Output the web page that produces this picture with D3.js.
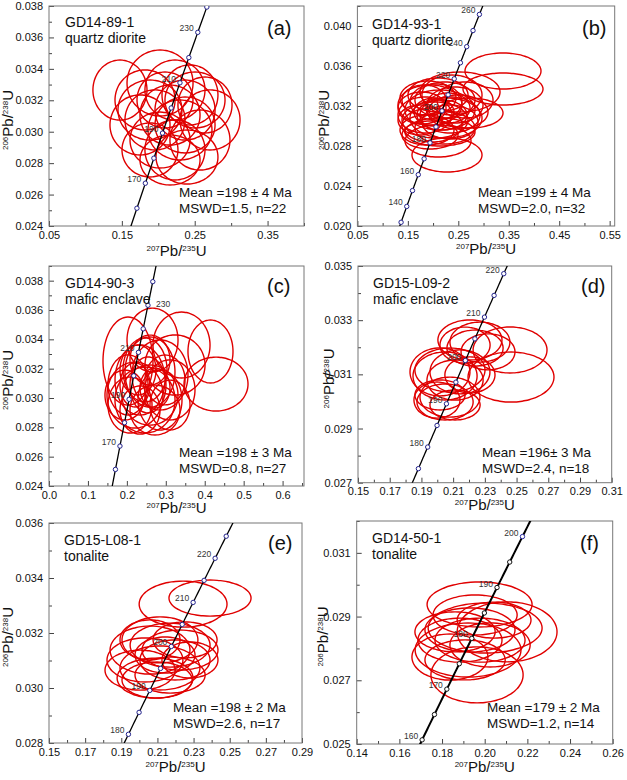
<!DOCTYPE html>
<html><head><meta charset="utf-8">
<script src="https://cdn.jsdelivr.net/npm/d3@7"></script>
<style>
body{margin:0;background:#fff}
text{font-family:"Liberation Sans",Arial,sans-serif}
</style>
</head><body>
<svg id="chart" width="627" height="780"></svg>
<script>
// ---------------- DATA ----------------
// spot analyses: [207Pb/235U, 2s, 206Pb/238U, 2s]
const spotsA = [
[0.1474,0.0371,0.03265,0.00191],[0.2710,0.0412,0.03075,0.00191],[0.2394,0.0425,0.02839,0.00172],
[0.2024,0.0453,0.0331,0.0021],[0.2229,0.0412,0.03265,0.00191],[0.1886,0.0439,0.03138,0.00191],
[0.1749,0.0412,0.03043,0.00191],[0.2504,0.0412,0.03202,0.00178],[0.2161,0.0412,0.03106,0.00191],
[0.2367,0.0412,0.03138,0.00191],[0.2024,0.0412,0.02947,0.00178],[0.2572,0.0412,0.02947,0.00191],
[0.2092,0.0384,0.03202,0.00178],[0.2298,0.0439,0.03011,0.00191],[0.1886,0.0384,0.02884,0.00172],
[0.2229,0.0412,0.02884,0.00191],[0.2435,0.0384,0.03234,0.00191],[0.1955,0.0412,0.03075,0.00191],
[0.2641,0.0371,0.0317,0.00178],[0.2161,0.0412,0.0282,0.00159],[0.1818,0.0412,0.03202,0.00191],
[0.2367,0.0412,0.03043,0.00178]];
const spotsB = [
[0.3386,0.0753,0.0355,0.0018],[0.3386,0.0793,0.0337,0.0016],[0.2276,0.0694,0.0271,0.0017],
[0.2098,0.0654,0.0285,0.0016],[0.2732,0.0654,0.0313,0.0015],[0.2534,0.0793,0.0334,0.0020],
[0.1939,0.0634,0.0321,0.0020],[0.2137,0.0694,0.0316,0.0020],[0.1840,0.0535,0.0311,0.0018],
[0.2236,0.0595,0.0326,0.0018],[0.2038,0.0654,0.0306,0.0018],[0.2336,0.0595,0.0311,0.0018],
[0.1899,0.0555,0.0328,0.0017],[0.2435,0.0555,0.0321,0.0018],[0.1979,0.0595,0.0301,0.0017],
[0.2236,0.0595,0.0298,0.0016],[0.1781,0.0476,0.0318,0.0016],[0.2098,0.0595,0.0331,0.0017],
[0.2336,0.0555,0.0304,0.0017],[0.1880,0.0535,0.0296,0.0015],[0.2177,0.0496,0.0311,0.0015],
[0.2494,0.0595,0.0314,0.0017],[0.2018,0.0396,0.0314,0.0014],[0.1741,0.0436,0.0306,0.0015],
[0.2296,0.0436,0.0318,0.0015],[0.2058,0.0515,0.0324,0.0018],[0.2633,0.0555,0.0326,0.0018],
[0.1939,0.0555,0.0291,0.0014],[0.2375,0.0595,0.0331,0.0020],[0.2137,0.0694,0.0294,0.0014],
[0.1820,0.0436,0.0326,0.0015],[0.2256,0.0714,0.0308,0.0020]];
const spotsC = [
[0.4290,0.0822,0.03095,0.00184],[0.4148,0.0578,0.03317,0.00215],[0.2659,0.0655,0.03395,0.00218],
[0.2029,0.0642,0.03252,0.00300],[0.3237,0.0771,0.03225,0.00205],[0.2851,0.0719,0.03157,0.00239],
[0.2338,0.0642,0.03123,0.00239],[0.2594,0.0719,0.0302,0.00205],[0.2209,0.0719,0.0302,0.00225],
[0.2851,0.0565,0.02986,0.00205],[0.2466,0.0565,0.03191,0.00218],[0.3108,0.0642,0.03055,0.00205],
[0.2081,0.0565,0.02952,0.00191],[0.2723,0.0642,0.02918,0.0017],[0.2338,0.0514,0.02918,0.00164],
[0.2543,0.0462,0.03089,0.00191],[0.2980,0.0514,0.03123,0.0017],[0.2209,0.0385,0.03089,0.0015],
[0.2594,0.0514,0.03259,0.0017],[0.1952,0.0514,0.0302,0.0017],[0.2466,0.0771,0.02986,0.00225],
[0.3404,0.0732,0.03361,0.00225],[0.2286,0.0462,0.03191,0.0017],[0.2723,0.0385,0.03068,0.00136],
[0.2029,0.0514,0.03089,0.00205],[0.3108,0.0514,0.02952,0.0017],[0.2594,0.0642,0.03177,0.00239]];
const spotsD = [
[0.2459,0.0233,0.0319,0.000849],[0.2465,0.0271,0.0309,0.000923],[0.2206,0.0202,0.03227,0.000738],
[0.2269,0.0189,0.03219,0.000738],[0.2238,0.0177,0.03197,0.000665],[0.2175,0.0158,0.03208,0.000665],
[0.2320,0.0170,0.03183,0.000665],[0.2017,0.0189,0.03109,0.000886],[0.2049,0.0202,0.03094,0.000886],
[0.2080,0.0221,0.03116,0.000812],[0.2112,0.0177,0.03079,0.000738],[0.2143,0.0189,0.03109,0.000812],
[0.2206,0.0158,0.03098,0.000665],[0.1998,0.0145,0.03005,0.000665],[0.2049,0.0177,0.02998,0.000665],
[0.2080,0.0189,0.03016,0.000738],[0.2017,0.0158,0.03024,0.000554],[0.2112,0.0158,0.02987,0.000554]];
const spotsE = [
[0.2242,0.0243,0.03305,0.000836],[0.2391,0.0227,0.03327,0.000655],[0.2114,0.0210,0.03175,0.000836],
[0.2170,0.0221,0.03156,0.0008],[0.2225,0.0210,0.03138,0.000727],[0.2059,0.0221,0.03138,0.000873],
[0.2031,0.0210,0.03102,0.0008],[0.2114,0.0221,0.03073,0.0008],[0.2197,0.0194,0.03102,0.000727],
[0.2087,0.0210,0.03036,0.000727],[0.2142,0.0166,0.0312,0.000655],[0.2004,0.0194,0.03065,0.000727],
[0.2253,0.0177,0.03175,0.000655],[0.2170,0.0194,0.03047,0.000655],[0.2059,0.0166,0.03175,0.000727],
[0.2280,0.0155,0.03102,0.000655],[0.2098,0.0194,0.03029,0.000655]];
const spotsF = [
[0.1976,0.0246,0.02938,0.000706],[0.2105,0.0234,0.02852,0.000942],[0.1964,0.0216,0.02717,0.000879],
[0.1837,0.0178,0.02773,0.000722],[0.1922,0.0248,0.02795,0.000848],[0.2002,0.0267,0.02864,0.000785],
[0.2044,0.0173,0.02889,0.000565],[0.1931,0.0211,0.02858,0.000691],[0.1884,0.0197,0.02826,0.000691],
[0.1978,0.0211,0.02826,0.000691],[0.1861,0.0188,0.02852,0.000628],[0.2025,0.0188,0.02811,0.000691],
[0.1955,0.0197,0.02905,0.000628],[0.1908,0.0188,0.02764,0.000628]];

// concordia age marks (Ma) and labelled ages
const marksA = [160,170,180,190,200,210,220,230,240];
const labelsA = [170,190,210,230];
const marksB = [130,140,150,160,170,180,190,200,210,220,230,240,250,260];
const labelsB = [140,160,180,200,220,240,260];
const marksC = [160,170,180,190,200,210,220,230,240];
const labelsC = [170,190,210,230];
const marksD = [175,180,185,190,195,200,205,210,215,220];
const labelsD = [180,190,200,210,220];
const marksE = [180,185,190,195,200,205,210,215,220,225];
const labelsE = [180,190,200,210,220];
const marksF = [160,165,170,175,180,185,190,195,200];
const labelsF = [160,170,180,190,200];

// axis domains and ticks
const xDomA=[0.05,0.40], yDomA=[0.024,0.038];
const xTickA=[0.05,0.15,0.25,0.35], xMinorA=[0.10,0.20,0.30,0.40];
const yTickA=[0.024,0.026,0.028,0.030,0.032,0.034,0.036,0.038], yMinorA=[0.025,0.027,0.029,0.031,0.033,0.035,0.037];
const xDomB=[0.05,0.56], yDomB=[0.020,0.042];
const xTickB=[0.05,0.15,0.25,0.35,0.45,0.55], xMinorB=[0.10,0.20,0.30,0.40,0.50];
const yTickB=[0.020,0.024,0.028,0.032,0.036,0.040], yMinorB=[0.022,0.026,0.030,0.034,0.038,0.042];
const xDomC=[0.0,0.655], yDomC=[0.024,0.039];
const xTickC=[0.0,0.1,0.2,0.3,0.4,0.5,0.6], xMinorC=[0.05,0.15,0.25,0.35,0.45,0.55,0.65];
const yTickC=[0.024,0.026,0.028,0.030,0.032,0.034,0.036,0.038], yMinorC=[0.025,0.027,0.029,0.031,0.033,0.035,0.037,0.039];
const xDomD=[0.15,0.31], yDomD=[0.027,0.035];
const xTickD=[0.15,0.17,0.19,0.21,0.23,0.25,0.27,0.29,0.31], xMinorD=[0.16,0.18,0.20,0.22,0.24,0.26,0.28,0.30];
const yTickD=[0.027,0.029,0.031,0.033,0.035], yMinorD=[0.028,0.030,0.032,0.034];
const xDomE=[0.15,0.29], yDomE=[0.028,0.036];
const xTickE=[0.15,0.17,0.19,0.21,0.23,0.25,0.27,0.29], xMinorE=[0.16,0.18,0.20,0.22,0.24,0.26,0.28];
const yTickE=[0.028,0.030,0.032,0.034,0.036], yMinorE=[0.029,0.031,0.033,0.035];
const xDomF=[0.14,0.26], yDomF=[0.025,0.032];
const xTickF=[0.14,0.16,0.18,0.20,0.22,0.24,0.26], xMinorF=[0.15,0.17,0.19,0.21,0.23,0.25];
const yTickF=[0.025,0.027,0.029,0.031], yMinorF=[0.026,0.028,0.030,0.032];

const sampleNames = ["GD14-89-1","GD14-93-1","GD14-90-3","GD15-L09-2","GD15-L08-1","GD14-50-1"];
const rockTypes = ["quartz diorite","quartz diorite","mafic enclave","mafic enclave","tonalite","tonalite"];
const panelTags = ["(a)","(b)","(c)","(d)","(e)","(f)"];
const meanTexts = ["Mean =198 \u00b1 4 Ma","Mean =199 \u00b1 4 Ma","Mean =198 \u00b1 3 Ma","Mean =196\u00b1 3 Ma","Mean =198 \u00b1 2 Ma","Mean =179 \u00b1 2 Ma"];
const mswdTexts = ["MSWD=1.5, n=22","MSWD=2.0, n=32","MSWD=0.8, n=27","MSWD=2.4, n=18","MSWD=2.6, n=17","MSWD=1.2, n=14"];

// ---------------- DRAWING ----------------
const L238 = 1.55125e-10, L235 = 9.8485e-10;
const conc = t => [Math.expm1(L235*t*1e6), Math.expm1(L238*t*1e6)];
const svg = d3.select("#chart");
svg.append("rect").attr("width",627).attr("height",780).attr("fill","#fff");

const panels = [
 {i:0,spots:spotsA,marks:marksA,labels:labelsA,xd:xDomA,yd:yDomA,xt:xTickA,xm:xMinorA,yt:yTickA,ym:yMinorA,xf:".2f",yf:".3f",
  L:49,R:304,T:6,B:226,ytx:13,xtb:256,nameX:65,nameY:27,tagX:267,tagY:35,meanX:179,meanY:197},
 {i:1,spots:spotsB,marks:marksB,labels:labelsB,xd:xDomB,yd:yDomB,xt:xTickB,xm:xMinorB,yt:yTickB,ym:yMinorB,xf:".2f",yf:".3f",
  L:357.4,R:614.7,T:6,B:226,ytx:329,xtb:254,nameX:372,nameY:29,tagX:582,tagY:35,meanX:478,meanY:197},
 {i:2,spots:spotsC,marks:marksC,labels:labelsC,xd:xDomC,yd:yDomC,xt:xTickC,xm:xMinorC,yt:yTickC,ym:yMinorC,xf:".1f",yf:".3f",
  L:49,R:304,T:266,B:486,ytx:13,xtb:513,nameX:65,nameY:288,tagX:267,tagY:293,meanX:179,meanY:457,rightLabel:[230]},
 {i:3,spots:spotsD,marks:marksD,labels:labelsD,xd:xDomD,yd:yDomD,xt:xTickD,xm:xMinorD,yt:yTickD,ym:yMinorD,xf:".2f",yf:".3f",
  L:358,R:611.7,T:266,B:482.7,ytx:334,xtb:510,nameX:373,nameY:288,tagX:581,tagY:293,meanX:482,meanY:457},
 {i:4,spots:spotsE,marks:marksE,labels:labelsE,xd:xDomE,yd:yDomE,xt:xTickE,xm:xMinorE,yt:yTickE,ym:yMinorE,xf:".2f",yf:".3f",
  L:49,R:302,T:523,B:743,ytx:13,xtb:772,nameX:64,nameY:545,tagX:268,tagY:550,meanX:173,meanY:712},
 {i:5,spots:spotsF,marks:marksF,labels:labelsF,xd:xDomF,yd:yDomF,xt:xTickF,xm:xMinorF,yt:yTickF,ym:yMinorF,xf:".2f",yf:".3f",
  L:356.7,R:612.7,T:521,B:744,ytx:328,xtb:772,nameX:372,nameY:543,tagX:580,tagY:550,meanX:487,meanY:712,
  thick:true,markStroke:"#111",blueMarks:[200]}
];

panels.forEach(p=>{
  const g = svg.append("g");
  const x = d3.scaleLinear().domain(p.xd).range([p.L,p.R]);
  const y = d3.scaleLinear().domain(p.yd).range([p.B,p.T]);
  const cid = "clip"+p.i;
  svg.append("clipPath").attr("id",cid).append("rect")
    .attr("x",p.L).attr("y",p.T).attr("width",p.R-p.L).attr("height",p.B-p.T);

  // axes (ticks inward)
  const ax = g.append("g").attr("transform",`translate(0,${p.B})`)
    .call(d3.axisBottom(x).tickValues(p.xt).tickSize(-5).tickPadding(5).tickFormat(d3.format(p.xf)));
  const axm = g.append("g").attr("transform",`translate(0,${p.B})`)
    .call(d3.axisBottom(x).tickValues(p.xm).tickSize(-3).tickFormat(""));
  const ay = g.append("g").attr("transform",`translate(${p.L},0)`)
    .call(d3.axisLeft(y).tickValues(p.yt).tickSize(-5).tickPadding(6).tickFormat(d3.format(p.yf)));
  const aym = g.append("g").attr("transform",`translate(${p.L},0)`)
    .call(d3.axisLeft(y).tickValues(p.ym).tickSize(-3).tickFormat(""));
  [ax,axm,ay,aym].forEach(a=>{
    a.select(".domain").remove();
    a.selectAll("line").attr("stroke","#444");
    a.selectAll("text").attr("font-size",11).attr("fill","#111")
      .attr("font-family",'"Liberation Sans",Arial,sans-serif');
  });
  g.append("rect").attr("x",p.L).attr("y",p.T).attr("width",p.R-p.L).attr("height",p.B-p.T)
    .attr("fill","none").attr("stroke","#777").attr("stroke-width",1);

  const plot = g.append("g").attr("clip-path",`url(#${cid})`);

  // error ellipses
  const angles = d3.range(0, 360, 5).map(a=>a*Math.PI/180);
  const line = d3.line().x(d=>x(d[0])).y(d=>y(d[1])).curve(d3.curveCardinalClosed);
  plot.selectAll("path.ell").data(p.spots).join("path").attr("class","ell")
    .attr("d", s => line(angles.map(t=>[s[0]+s[1]*Math.cos(t), s[2]+s[3]*Math.sin(t)])))
    .attr("fill","none").attr("stroke","#e00000").attr("stroke-width",1.4);

  // concordia curve
  const ages = d3.range(100, 300.5, 0.5);
  plot.append("path").attr("d", d3.line().x(d=>x(conc(d)[0])).y(d=>y(conc(d)[1]))(ages))
    .attr("fill","none").attr("stroke","#000").attr("stroke-width",p.thick?2:1.3);

  // age marks
  plot.selectAll("circle.mk").data(p.marks).join("circle").attr("class","mk")
    .attr("cx",d=>x(conc(d)[0])).attr("cy",d=>y(conc(d)[1])).attr("r",2.2)
    .attr("fill","#fff")
    .attr("stroke",d=> (p.blueMarks && p.blueMarks.includes(d)) ? "#2a2aa0" : (p.markStroke||"#22228c"))
    .attr("stroke-width",1);
  const isR = d => p.rightLabel && p.rightLabel.includes(d);
  g.selectAll("text.age").data(p.labels).join("text").attr("class","age")
    .attr("x",d=> isR(d) ? x(conc(d)[0])+8 : x(conc(d)[0])-4)
    .attr("y",d=> y(conc(d)[1]) + (isR(d) ? 2 : -1))
    .attr("text-anchor",d=> isR(d) ? "start":"end")
    .attr("font-size",8.5).attr("fill","#333").text(d=>d);

  // annotations
  g.append("text").attr("x",p.nameX).attr("y",p.nameY).attr("font-size",14).attr("fill","#111").text(sampleNames[p.i]);
  g.append("text").attr("x",p.nameX).attr("y",p.nameY+16).attr("font-size",14).attr("fill","#111").text(rockTypes[p.i]);
  g.append("text").attr("x",p.tagX).attr("y",p.tagY).attr("font-size",20).attr("fill","#111").text(panelTags[p.i]);
  g.append("text").attr("x",p.meanX).attr("y",p.meanY).attr("font-size",13.5).attr("fill","#111").text(meanTexts[p.i]);
  g.append("text").attr("x",p.meanX).attr("y",p.meanY+16).attr("font-size",13.5).attr("fill","#111").text(mswdTexts[p.i]);

  // axis titles
  const xt = g.append("text").attr("x",(p.L+p.R)/2).attr("y",p.xtb).attr("text-anchor","middle").attr("fill","#111");
  xt.append("tspan").attr("font-size",8).attr("dy",-5).text("207");
  xt.append("tspan").attr("font-size",15).attr("dy",5).text("Pb/");
  xt.append("tspan").attr("font-size",8).attr("dy",-5).text("235");
  xt.append("tspan").attr("font-size",15).attr("dy",5).text("U");
  const yt = g.append("text").attr("transform",`translate(${p.ytx},${(p.T+p.B)/2+4}) rotate(-90)`)
    .attr("text-anchor","middle").attr("fill","#111");
  yt.append("tspan").attr("font-size",8).attr("dy",-5).text("206");
  yt.append("tspan").attr("font-size",15).attr("dy",5).text("Pb/");
  yt.append("tspan").attr("font-size",8).attr("dy",-5).text("238");
  yt.append("tspan").attr("font-size",15).attr("dy",5).text("U");
});
</script>
</body></html>
